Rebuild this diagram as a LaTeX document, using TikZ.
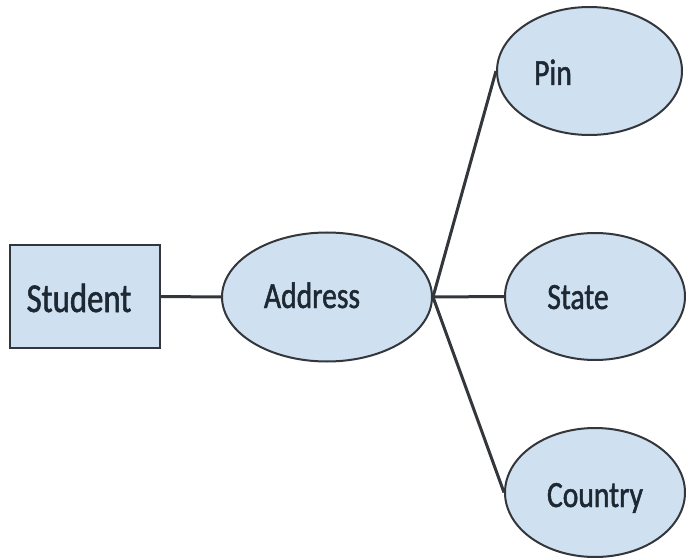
\documentclass[tikz,border=0pt]{standalone}
\usepackage{fontspec}
\setmainfont[FakeStretch=0.80,FakeBold=1.3]{Carlito}
\usetikzlibrary{shapes.geometric}
\definecolor{boxfill}{HTML}{CFE0F1}
\definecolor{edge}{HTML}{33363B}
\definecolor{txt}{HTML}{1E2833}
\tikzset{
  entity/.style={draw=edge, line width=2pt, fill=boxfill, inner sep=0pt},
  attr/.style={ellipse, draw=edge, line width=2pt, fill=boxfill, inner sep=0pt},
  lbl/.style={anchor=base, text=txt, inner sep=0pt, font=\fontsize{37}{40}\selectfont},
  conn/.style={draw=edge, line width=3pt}
}
\begin{document}
\begin{tikzpicture}[x=1pt,y=-1pt]
\useasboundingbox (0,0) rectangle (686,559);
\node[entity, minimum width=150pt, minimum height=103pt] (student) at (85,296.5) {};
\node[attr, minimum width=210pt, minimum height=129pt] (address) at (327,297) {};
\node[attr, minimum width=185pt, minimum height=128pt] (pin) at (589.5,71) {};
\node[attr, minimum width=180pt, minimum height=127pt] (state) at (595,296.5) {};
\node[attr, minimum width=180pt, minimum height=129pt] (country) at (595,492.5) {};
\node[lbl, font=\fontsize{41}{44}\selectfont] (studentlbl) at (79,312) {Student};
\node[lbl] (addresslbl) at (312,308) {Address};
\node[lbl] (pinlbl) at (553,85) {Pin};
\node[lbl] (statelbl) at (578,309) {State};
\node[lbl] (countrylbl) at (595,507) {Country};
\draw[conn] (student.east) -- (address.west);
\draw[conn] (address.east) -- (pin.west);
\draw[conn] (address.east) -- (state.west);
\draw[conn] (address.east) -- (country.west);
\end{tikzpicture}
\end{document}
